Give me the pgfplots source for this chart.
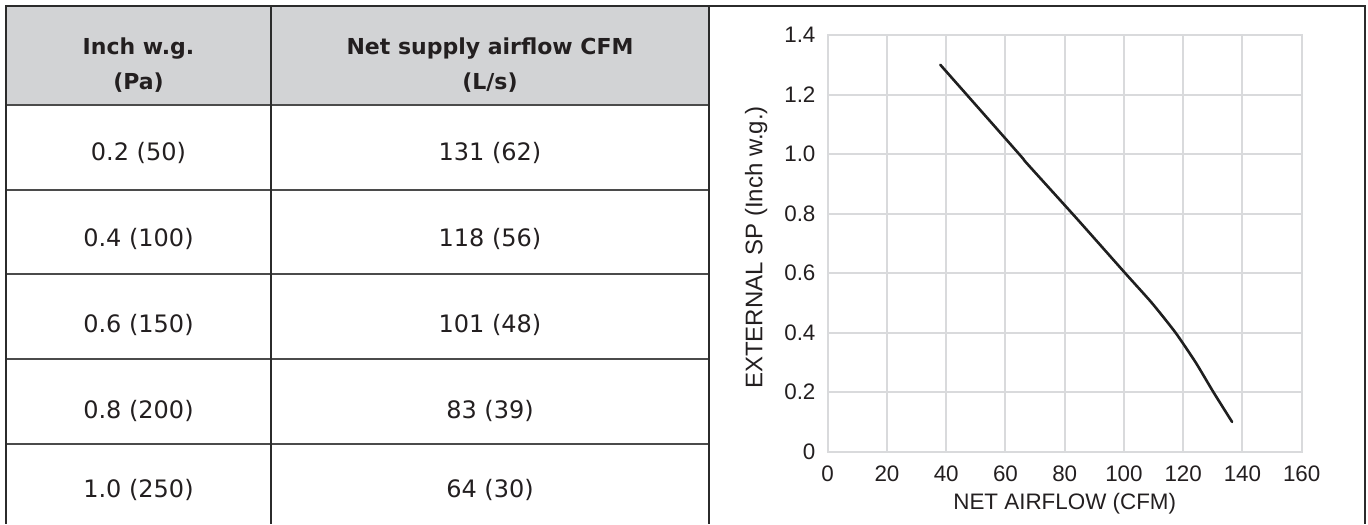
\documentclass[border=0pt]{standalone}
\usepackage{pgfplots}
\pgfplotsset{compat=1.18}
\usepackage{fontspec}
\setmainfont{Liberation Sans}
\newfontfamily\tabfont{DejaVu Sans}
\definecolor{hdr}{HTML}{D2D3D5}
\definecolor{rulec}{HTML}{2B2B2B}
\definecolor{grd}{HTML}{D9DADC}
\definecolor{txt}{HTML}{231F20}
\begin{document}
\begin{tikzpicture}[x=0.5pt,y=0.5pt]
\useasboundingbox (0,0) rectangle (1368,524);
% table
\fill[hdr] (6,518) rectangle (709,419);
\draw[rulec, line width=1pt] (5,518) -- (1366,518);
\foreach \y in {419,334,250,165,80} \draw[rulec!85,line width=1pt] (6,\y) -- (709,\y);
\foreach \x in {6,271,709,1365} \draw[rulec,line width=1pt] (\x,518) -- (\x,0);
\begin{scope}[every node/.style={anchor=base, text=txt}]
\node[font=\tabfont\bfseries\fontsize{11}{13}\selectfont] at (138.5,469.5) {Inch w.g.};
\node[font=\tabfont\bfseries\fontsize{11}{13}\selectfont] at (138.5,434) {(Pa)};
\node[font=\tabfont\bfseries\fontsize{11}{13}\selectfont] at (490,469.5) {Net supply airflow CFM};
\node[font=\tabfont\bfseries\fontsize{11}{13}\selectfont] at (490,434) {(L/s)};
\end{scope}
\begin{scope}[every node/.style={anchor=center, text=txt, font=\tabfont\fontsize{12}{14}\selectfont}]
\node at (138.5,371) {0.2 (50)};
\node at (490,371) {131 (62)};
\node at (138.5,285) {0.4 (100)};
\node at (490,285) {118 (56)};
\node at (138.5,199) {0.6 (150)};
\node at (490,199) {101 (48)};
\node at (138.5,113) {0.8 (200)};
\node at (490,113) {83 (39)};
\node at (138.5,34) {1.0 (250)};
\node at (490,34) {64 (30)};
\end{scope}
% chart
\coordinate (AO) at (827.7,72.3);
\begin{axis}[
  at={(AO)}, anchor=south west, scale only axis,
  width=237pt, height=208.35pt,
  xmin=0, xmax=160, ymin=0, ymax=1.4,
  xtick={0,20,40,60,80,100,120,140,160},
  ytick={0,0.2,0.4,0.6,0.8,1.0,1.2,1.4},
  yticklabels={0,0.2,0.4,0.6,0.8,1.0,1.2,1.4},
  grid=major, grid style={grd, line width=1pt},
  axis line style={grd, line width=1pt},
  major tick length=0pt,
  /pgf/number format/assume math mode=true,
  tick label style={font=\fontsize{11.2}{13}\selectfont, text=txt},
  yticklabel style={xshift=-2.6pt},
  xticklabel style={yshift=-3.6pt},
  xlabel={NET AIRFLOW (CFM)},
  ylabel={EXTERNAL SP (Inch w.g.)},
  xlabel style={font=\fontsize{11.2}{13}\selectfont, text=txt, at={(axis description cs:0.5,-0.1238)}, anchor=center},
  ylabel style={font=\fontsize{12}{14}\selectfont, text=txt, at={(axis description cs:-0.151,0.49)}, anchor=center},
]
\addplot[line width=1.3pt, color=black!88, line join=round, line cap=round, smooth, tension=0.35] coordinates {
(38,1.30) (64.6,1.0) (67.2,0.969) (84,0.784) (100.4,0.60) (109.4,0.50)
(117.4,0.40) (124.2,0.30) (130.2,0.20) (136.5,0.10)
};
\end{axis}
\end{tikzpicture}
\end{document}
